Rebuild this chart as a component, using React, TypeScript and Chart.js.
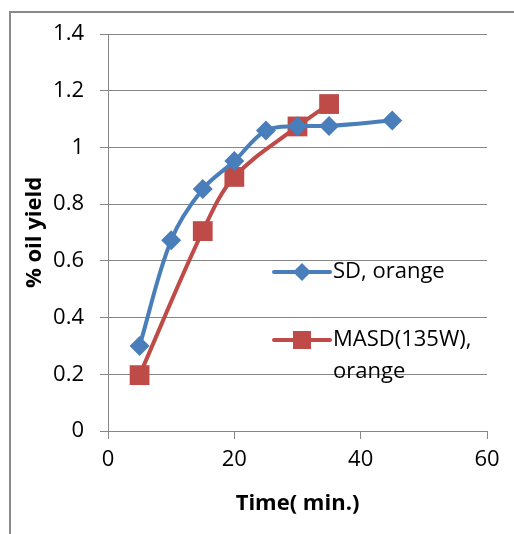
import React, { useEffect, useRef } from "react";
import { Chart, registerables } from "chart.js";
Chart.register(...registerables);

const sdTime = [5, 10, 15, 20, 25, 30, 35, 45];
const sdYield = [0.3, 0.673, 0.853, 0.952, 1.06, 1.075, 1.076, 1.095];
const masdTime = [5, 15, 20, 30, 35];
const masdYield = [0.197, 0.705, 0.896, 1.074, 1.153];
const seriesLabels = ["SD, orange", "MASD(135W), orange"];
const legendLines = [["SD, orange"], ["MASD(135W),", "orange"]];
const xTitle = "Time( min.)";
const yTitle = "% oil yield";

const FONT = "'Open Sans', 'Liberation Sans', sans-serif";
const BLUE = "#4A7EBB";
const RED = "#BE4B48";
const GRID = "#868686";

const framePlugin = {
  id: "frame",
  beforeDraw(chart: any) {
    const ctx = chart.ctx;
    ctx.save();
    ctx.fillStyle = "#fff";
    ctx.fillRect(0, 0, chart.width, chart.height);
    ctx.strokeStyle = "#8a8a8a";
    ctx.lineWidth = 2;
    ctx.beginPath();
    ctx.moveTo(10, chart.height);
    ctx.lineTo(10, 12);
    ctx.lineTo(chart.width, 12);
    ctx.stroke();
    ctx.restore();
  },
};

const legendPlugin = {
  id: "insideLegend",
  afterDraw(chart: any) {
    const ctx = chart.ctx;
    const rows = [272, 340];
    const x0 = 274, x1 = 330, tx = 333;
    ctx.save();
    chart.data.datasets.forEach((ds: any, i: number) => {
      const y = rows[i];
      ctx.strokeStyle = ds.borderColor;
      ctx.lineWidth = 4;
      ctx.lineCap = "round";
      ctx.beginPath();
      ctx.moveTo(x0, y);
      ctx.lineTo(x1, y);
      ctx.stroke();
      const cx = (x0 + x1) / 2;
      ctx.fillStyle = ds.backgroundColor;
      ctx.beginPath();
      if (ds.pointStyle === "rectRot") {
        const r = 9;
        ctx.moveTo(cx - r, y);
        ctx.lineTo(cx, y - r);
        ctx.lineTo(cx + r, y);
        ctx.lineTo(cx, y + r);
        ctx.closePath();
      } else {
        const h = 9;
        ctx.rect(cx - h, y - h, 2 * h, 2 * h);
      }
      ctx.fill();
      ctx.fillStyle = "#000";
      ctx.font = `22px ${FONT}`;
      ctx.textBaseline = "middle";
      ctx.textAlign = "left";
      legendLines[i].forEach((t, j) => {
        ctx.fillText(t, tx, y + j * 32);
      });
    });
    ctx.restore();
  },
};

export default function App() {
  const ref = useRef<HTMLCanvasElement | null>(null);
  useEffect(() => {
    document.body.style.margin = "0";
    const padLeft = 22;
    const padBottom = 0;
    const chart = new Chart(ref.current as HTMLCanvasElement, {
      type: "line",
      data: {
        datasets: [
          {
            label: seriesLabels[0],
            data: sdTime.map((t, i) => ({ x: t, y: sdYield[i] })),
            borderColor: BLUE,
            backgroundColor: BLUE,
            borderWidth: 4,
            pointStyle: "rectRot",
            pointRadius: 10,
            pointBorderWidth: 0,
            tension: 0.35,
          },
          {
            label: seriesLabels[1],
            data: masdTime.map((t, i) => ({ x: t, y: masdYield[i] })),
            borderColor: RED,
            backgroundColor: RED,
            borderWidth: 4,
            pointStyle: "rect",
            pointRadius: 14,
            pointBorderWidth: 0,
            tension: 0.35,
          },
        ],
      },
      options: {
        responsive: false,
        animation: false,
        layout: { padding: { left: padLeft, right: 27, top: 34, bottom: padBottom } },
        plugins: { legend: { display: false }, tooltip: { enabled: false } },
        scales: {
          x: {
            type: "linear",
            min: 0,
            max: 60,
            ticks: { stepSize: 20, color: "#000", font: { family: FONT, size: 22 }, padding: 8, maxRotation: 0 },
            grid: { drawOnChartArea: false, drawTicks: true, tickLength: 8, color: GRID },
            border: { color: GRID, width: 1 },
            title: {
              display: true,
              text: xTitle,
              color: "#000",
              font: { family: FONT, size: 22, weight: "bold" },
              padding: { top: 0, bottom: 17 },
            },
            afterFit: (s: any) => {
              s.height = 534 - 431 - padBottom;
            },
          },
          y: {
            min: 0,
            max: 1.4,
            ticks: {
              stepSize: 0.2,
              color: "#000",
              font: { family: FONT, size: 22 },
              padding: 16,
              callback: (v: any) => String(Math.round(Number(v) * 10) / 10),
            },
            grid: { color: GRID, tickLength: 8, lineWidth: 1 },
            border: { color: GRID, width: 1 },
            title: {
              display: true,
              text: yTitle,
              color: "#000",
              font: { family: FONT, size: 22, weight: "bold" },
              padding: { top: 0, bottom: 0 },
            },
            afterFit: (s: any) => {
              s.width = 108 - padLeft;
            },
          },
        },
      } as any,
      plugins: [framePlugin, legendPlugin],
    });
    return () => chart.destroy();
  }, []);
  return <canvas ref={ref} width={514} height={534} style={{ display: "block" }} />;
}
